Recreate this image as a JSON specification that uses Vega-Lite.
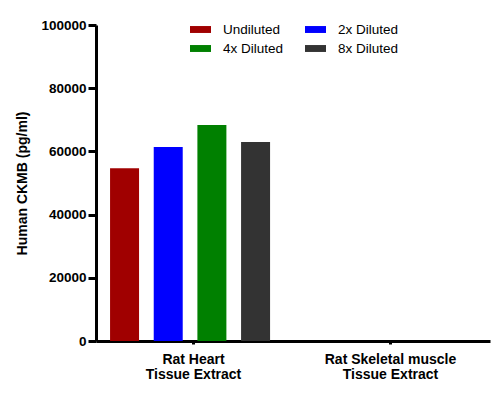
{
  "$schema": "https://vega.github.io/schema/vega-lite/v6.json",
  "width": 394,
  "height": 316,
  "autosize": {"type": "none"},
  "padding": {"left": 96, "top": 25, "right": 9, "bottom": 57},
  "background": "white",
  "config": {"view": {"stroke": null}, "font": "Liberation Sans"},
  "data": {
    "values": [
      {"sample": "Rat Heart|Tissue Extract", "dilution": "Undiluted", "value": 54700},
      {"sample": "Rat Heart|Tissue Extract", "dilution": "2x Diluted", "value": 61400},
      {"sample": "Rat Heart|Tissue Extract", "dilution": "4x Diluted", "value": 68350},
      {"sample": "Rat Heart|Tissue Extract", "dilution": "8x Diluted", "value": 62950},
      {"sample": "Rat Skeletal muscle|Tissue Extract", "dilution": "Undiluted", "value": 0},
      {"sample": "Rat Skeletal muscle|Tissue Extract", "dilution": "2x Diluted", "value": 0},
      {"sample": "Rat Skeletal muscle|Tissue Extract", "dilution": "4x Diluted", "value": 0},
      {"sample": "Rat Skeletal muscle|Tissue Extract", "dilution": "8x Diluted", "value": 0}
    ]
  },
  "mark": {"type": "bar"},
  "encoding": {
    "x": {
      "field": "sample",
      "type": "nominal",
      "sort": null,
      "scale": {"paddingInner": 0, "paddingOuter": 0},
      "axis": {
        "title": null,
        "labelAngle": 0,
        "labelExpr": "split(datum.value, '|')",
        "labelFont": "Liberation Sans",
        "labelFontWeight": "bold",
        "labelFontSize": 14,
        "labelLineHeight": 15,
        "labelColor": "black",
        "labelPadding": 8,
        "domainColor": "black",
        "domainWidth": 3,
        "tickColor": "black",
        "tickWidth": 3,
        "tickSize": 3,
        "tickOffset": -1.5
      }
    },
    "xOffset": {
      "field": "dilution",
      "type": "nominal",
      "sort": ["Undiluted", "2x Diluted", "4x Diluted", "8x Diluted"],
      "scale": {"paddingInner": 0.336, "paddingOuter": 0.4235, "align": 0.38}
    },
    "y": {
      "field": "value",
      "type": "quantitative",
      "scale": {"domain": [0, 100000], "nice": false},
      "axis": {
        "title": "Human CKMB (pg/ml)",
        "titleFont": "Liberation Sans",
        "titleFontWeight": "bold",
        "titleFontSize": 14,
        "titleColor": "black",
        "titlePadding": 11,
        "values": [0, 20000, 40000, 60000, 80000, 100000],
        "format": "d",
        "grid": false,
        "labelFont": "Liberation Sans",
        "labelFontWeight": "bold",
        "labelFontSize": 13.5,
        "labelColor": "black",
        "labelPadding": 2,
        "domainColor": "black",
        "domainWidth": 3,
        "tickColor": "black",
        "tickWidth": 3,
        "tickSize": 8
      }
    },
    "color": {
      "field": "dilution",
      "type": "nominal",
      "sort": ["Undiluted", "2x Diluted", "4x Diluted", "8x Diluted"],
      "scale": {
        "domain": ["Undiluted", "2x Diluted", "4x Diluted", "8x Diluted"],
        "range": ["#A00000", "#0000FF", "#008000", "#333333"]
      },
      "legend": {
        "title": null,
        "orient": "none",
        "legendX": 94,
        "legendY": -6,
        "direction": "horizontal",
        "columns": 2,
        "columnPadding": 21,
        "rowPadding": 2,
        "symbolType": "M-1,-0.33H1V0.33H-1Z",
        "symbolSize": 441,
        "symbolStrokeWidth": 0,
        "labelFont": "Liberation Sans",
        "labelFontSize": 13.5,
        "labelColor": "black",
        "labelOffset": 12
      }
    }
  }
}
